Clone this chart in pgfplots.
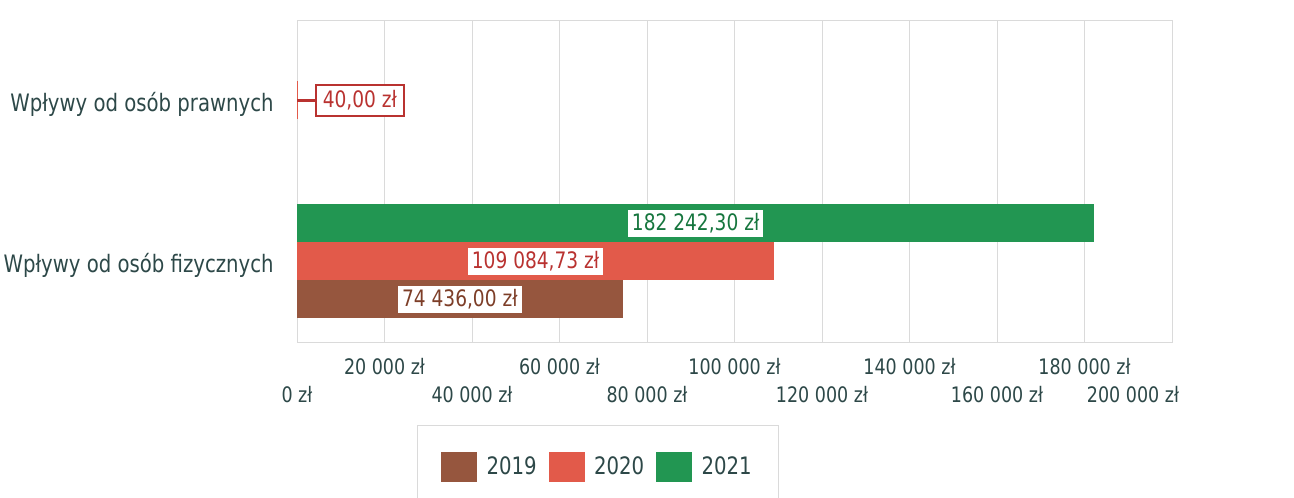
\documentclass[border=0pt]{standalone}
\usepackage{fontspec}
\setmainfont{DejaVu Sans}[FakeStretch=0.82]
\usepackage{pgfplots}
\pgfplotsset{compat=1.18}
\definecolor{c19}{RGB}{150,86,62}
\definecolor{c20}{RGB}{226,90,74}
\definecolor{c21}{RGB}{34,150,82}
\definecolor{t19}{RGB}{125,62,40}
\definecolor{t20}{RGB}{185,50,48}
\definecolor{t21}{RGB}{22,118,62}
\definecolor{txt}{RGB}{45,72,72}
\definecolor{grd}{RGB}{218,218,218}
% data labels sit in the middle of each bar: shift back by half the bar length
\pgfplotsset{midlabel/.style={every node near coord/.append style={anchor=center,
    xshift=#1, fill=white, inner xsep=3pt, inner ysep=3pt,
    font=\fontsize{17}{20}\selectfont}}}

\begin{document}
\begin{tikzpicture}[x=1pt,y=1pt]
\path[use as bounding box] (0,0) rectangle (970.5,373.5);
\begin{axis}[
  at={(222.75pt,117pt)}, anchor=south west,
  scale only axis, width=656.25pt, height=241.5pt,
  xbar, bar width=28.5pt,
  xmin=0, xmax=200000, ymin=-0.5, ymax=1.5,
  ytick={0,1},
  yticklabels={Wpływy od osób fizycznych, Wpływy od osób prawnych},
  yticklabel style={font=\fontsize{18}{21}\selectfont, text=txt, xshift=-14pt, yshift=-3pt},
  xtick={0,40000,...,200000},
  xticklabels={0 zł, 40 000 zł, 80 000 zł, 120 000 zł, 160 000 zł,
    \hbox to 0pt{\hss 200 000 zł\kern-5.25pt}},
  extra x ticks={20000,60000,...,180000},
  extra x tick labels={20 000 zł, 60 000 zł, 100 000 zł, 140 000 zł, 180 000 zł},
  extra x tick style={grid=major, xticklabel style={yshift=21pt}},
  xticklabel style={font=\fontsize{16}{19}\selectfont, text=txt, anchor=center, yshift=-39.75pt},
  scaled x ticks=false,
  major tick length=0pt,
  xmajorgrids, grid style={grd, line width=0.7pt},
  axis line style={grd, line width=0.7pt},
  legend columns=-1,
  legend style={at={(rel axis cs:0.137,-0.258)}, anchor=north west,
    draw=grd, line width=0.7pt, fill=white, text=txt,
    font=\fontsize{18}{21}\selectfont,
    inner xsep=18pt, inner ysep=20pt,
    /tikz/every odd column/.append style={column sep=5pt},
    /tikz/every even column/.append style={column sep=7pt}},
  nodes near coords,
  point meta=explicit symbolic,
]
\addplot[fill=c19, draw=none, bar shift=-28.5pt, midlabel=-122.1pt,
  every node near coord/.append style={text=t19},
  legend image code/.code={\fill[c19] (0pt,-11pt) rectangle (27pt,11pt);}]
  coordinates {(74436,0) [74 436,00 zł]};
\addlegendentry{2019}
\addplot[fill=c20, draw=none, bar shift=0pt, midlabel=-179.0pt,
  every node near coord/.append style={text=t20},
  legend image code/.code={\fill[c20] (0pt,-11pt) rectangle (27pt,11pt);}]
  coordinates {(109084.73,0) [109 084,73 zł]};
\addlegendentry{2020}
\addplot[fill=c21, draw=none, bar shift=28.5pt, midlabel=-299.0pt,
  every node near coord/.append style={text=t21},
  legend image code/.code={\fill[c21] (0pt,-11pt) rectangle (27pt,11pt);}]
  coordinates {(182242.30,0) [182 242,30 zł]};
\addlegendentry{2021}
\addplot[fill=c20, draw=none, bar shift=0pt, forget plot,
  every node near coord/.append style={anchor=west, xshift=13.5pt, fill=white,
    draw=t20, line width=1.4pt, text=t20, inner xsep=5pt, inner ysep=4pt,
    font=\fontsize{17}{20}\selectfont,
    append after command={(\tikzlastnode.west) edge[draw=t20, line width=1.6pt]
      ([xshift=-13.5pt]\tikzlastnode.west)}}]
  coordinates {(40,1) [40,00 zł]};
\end{axis}
\end{tikzpicture}
\end{document}
